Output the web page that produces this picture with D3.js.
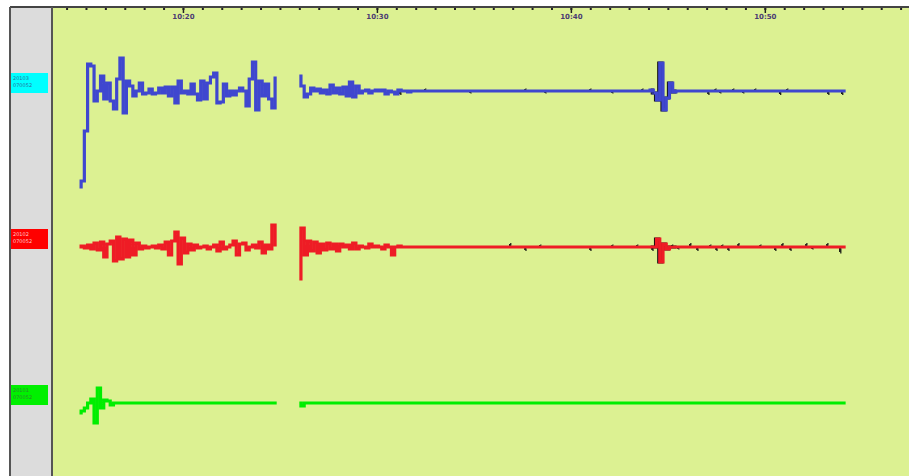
<!DOCTYPE html>
<html>
<head>
<meta charset="utf-8">
<script src="https://cdn.jsdelivr.net/npm/d3@7"></script>
<style>
  body { margin: 0; background: #fff; }
  .tick text { font-family: "DejaVu Sans", sans-serif; }
</style>
</head>
<body>
<div id="chart"></div>
<script>
var svgWidth = 909;
var svgHeight = 476;

// time axis, seconds after 10:00:00
var timeDomain = [798, 3446];
var majorTicks = [1200, 1800, 2400, 3000];
var tickLabels = ["10:20", "10:30", "10:40", "10:50"];

// channels top to bottom
var channelIds = ["c1", "c2", "c3"];
var labelLine1 = ["20103", "20102", "20101"];
var labelLine2 = ["070052", "070052", "070052"];

// two recording segments, one sample every 10 s
var seg1Start = 880;
var seg2Start = 1560;
var sampleStep = 10;

var blueSeg1 = [
  -96, -90, -40, 27, 25, -10, 0, 15, -8, 8,
  -10, -18, 12, 33, -22, 10, 5, -5, 0, 8,
  -3, -2, 2, -3, -2, 3, -2, 4, -5, 4,
  -12, 10, -2, 0, -3, 7, -3, -9, 10, -8,
  8, 14, 18, -12, -11, 7, -5, 0, -4, 0,
  3, 0, -15, 12, 29, -19, 10, -5, 7, -8,
  -17, 13
];
var blueSeg2 = [
  15, 5, -6, -3, 3, 0, 2, -2, 1, -3,
  6, -2, 3, -3, 4, -5, 9, -6, 5, -2,
  0, 1, -2, 0, 1, 0, 1, -3, 0, -1,
  -3, 1, 0, 0, -1, 0, 0, 0, 0, 0,
  0, 0, 0, 0, 0, 0, 0, 0, 0, 0,
  0, 0, 0, 0, 0, 0, 0, 0, 0, 0,
  0, 0, 0, 0, 0, 0, 0, 0, 0, 0,
  0, 0, 0, 0, 0, 0, 0, 0, 0, 0,
  0, 0, 0, 0, 0, 0, 0, 0, 0, 0,
  0, 0, 0, 0, 0, 0, 0, 0, 0, 0,
  0, 0, 0, 0, 0, 0, 0, 0, 0, 1,
  -2, -9, 28, -19, -7, 8, -1, 0, 0, 0,
  0, 0, 0, 0, 0, 0, 0, 0, 0, 0,
  0, 0, 0, 0, 0, 0, 0, 0, 0, 0,
  0, 0, 0, 0, 0, 0, 0, 0, 0, 0,
  0, 0, 0, 0, 0, 0, 0, 0, 0, 0,
  0, 0, 0, 0, 0, 0, 0, 0, 0, 0
];
var redSeg1 = [
  0, 1, -1, 2, -2, 4, -3, 5, -10, 3,
  6, -14, 10, -12, 8, -10, 7, -8, 4, -2,
  1, -1, 0, 1, -1, 2, -2, 5, -8, 6,
  15, -17, 9, -6, 3, -3, 2, -1, 0, 1,
  -2, 0, 2, -4, 5, -2, 0, 2, 6, -8,
  3, 4, -3, 0, 2, -1, 5, -6, 2, -2,
  22, 2
];
var redSeg2 = [
  -32, 19, -8, 6, -4, 5, -6, 3, -3, 4,
  -2, 3, -4, 3, 0, 2, -2, 4, -2, 1,
  0, -1, 3, 0, 1, 0, -2, 2, 0, -8,
  0, 1, 0, 0, 0, 0, 0, 0, 0, 0,
  0, 0, 0, 0, 0, 0, 0, 0, 0, 0,
  0, 0, 0, 0, 0, 0, 0, 0, 0, 0,
  0, 0, 0, 0, 0, 0, 0, 0, 0, 0,
  0, 0, 0, 0, 0, 0, 0, 0, 0, 0,
  0, 0, 0, 0, 0, 0, 0, 0, 0, 0,
  0, 0, 0, 0, 0, 0, 0, 0, 0, 0,
  0, 0, 0, 0, 0, 0, 0, 0, 0, 0,
  0, 8, -15, 3, -2, 0, 0, 0, 0, 0,
  0, 0, 0, 0, 0, 0, 0, 0, 0, 0,
  0, 0, 0, 0, 0, 0, 0, 0, 0, 0,
  0, 0, 0, 0, 0, 0, 0, 0, 0, 0,
  0, 0, 0, 0, 0, 0, 0, 0, 0, 0,
  0, 0, 0, 0, 0, 0, 0, 0, 0, 0
];
var greenSeg1 = [
  -10, -8, -5, 0, 4, -20, 15, -5, 3, 2,
  -2, 0, 0, 0, 0, 0, 0, 0, 0, 0,
  0, 0, 0, 0, 0, 0, 0, 0, 0, 0,
  0, 0, 0, 0, 0, 0, 0, 0, 0, 0,
  0, 0, 0, 0, 0, 0, 0, 0, 0, 0,
  0, 0, 0, 0, 0, 0, 0, 0, 0, 0,
  0, 0
];
var greenSeg2 = [
  0, -3, 0, 0, 0, 0, 0, 0, 0, 0,
  0, 0, 0, 0, 0, 0, 0, 0, 0, 0,
  0, 0, 0, 0, 0, 0, 0, 0, 0, 0,
  0, 0, 0, 0, 0, 0, 0, 0, 0, 0,
  0, 0, 0, 0, 0, 0, 0, 0, 0, 0,
  0, 0, 0, 0, 0, 0, 0, 0, 0, 0,
  0, 0, 0, 0, 0, 0, 0, 0, 0, 0,
  0, 0, 0, 0, 0, 0, 0, 0, 0, 0,
  0, 0, 0, 0, 0, 0, 0, 0, 0, 0,
  0, 0, 0, 0, 0, 0, 0, 0, 0, 0,
  0, 0, 0, 0, 0, 0, 0, 0, 0, 0,
  0, 0, 0, 0, 0, 0, 0, 0, 0, 0,
  0, 0, 0, 0, 0, 0, 0, 0, 0, 0,
  0, 0, 0, 0, 0, 0, 0, 0, 0, 0,
  0, 0, 0, 0, 0, 0, 0, 0, 0, 0,
  0, 0, 0, 0, 0, 0, 0, 0, 0, 0,
  0, 0, 0, 0, 0, 0, 0, 0, 0, 0
];

// small black marks on the quiet part, [time, amplitude]
var blueBlips = [[1871, -3], [1948, 2], [2088, -2], [2258, 2], [2320, -2], [2459, 2],
  [2527, -2], [2620, 2], [2651, -2], [2824, -3], [2846, 2], [2861, -2], [2901, 2],
  [2932, -2], [2969, 2], [3046, -3], [3068, 2], [3195, -3], [3238, -3]];
var redBlips = [[2211, 3], [2258, -3], [2304, 2], [2459, -3], [2527, 2], [2604, 2],
  [2651, -3], [2712, 2], [2731, -2], [2768, 3], [2790, -3], [2830, 2], [2849, -3],
  [2867, 2], [2886, -3], [2917, 3], [2985, 2], [3031, -3], [3053, 3], [3078, -3],
  [3127, 3], [3146, -2], [3192, 3], [3232, -5]];

var traces = [
  { id: "c1", color: "#3f47cf", box: "#00ffff", text: "#2a6fa0", seg1: blueSeg1, seg2: blueSeg2, blips: blueBlips, event: true },
  { id: "c2", color: "#ee1c25", box: "#ff0000", text: "#ffc8c8", seg1: redSeg1, seg2: redSeg2, blips: redBlips, event: true },
  { id: "c3", color: "#00ee00", box: "#00f000", text: "#2e8a2e", seg1: greenSeg1, seg2: greenSeg2, blips: [], event: false }
];

var svg = d3.select("#chart")
  .append("svg")
  .attr("width", svgWidth)
  .attr("height", svgHeight);

var plotLeft = 53, axisY = 7;

// panels
svg.append("rect").attr("x", 11).attr("y", axisY).attr("width", 41).attr("height", svgHeight - axisY).attr("fill", "#dcdcdc");
svg.append("rect").attr("x", plotLeft).attr("y", axisY).attr("width", svgWidth - plotLeft).attr("height", svgHeight - axisY).attr("fill", "#dcf192");

var x = d3.scaleLinear().domain(timeDomain).range([plotLeft, svgWidth]);
var yChan = d3.scalePoint().domain(channelIds).range([91, 403]);
var amp = d3.scaleLinear().domain([-100, 100]).range([100, -100]);

// axis
var minorAxis = d3.axisBottom(x).tickValues(d3.range(840, 3446, 60)).tickSize(3).tickFormat("");
var majorAxis = d3.axisBottom(x).tickValues(majorTicks).tickSize(6).tickPadding(1)
  .tickFormat(function(d, i) { return tickLabels[i]; });

var gMinor = svg.append("g").attr("transform", "translate(0," + axisY + ")").call(minorAxis);
gMinor.select(".domain").remove();
gMinor.selectAll(".tick line").attr("stroke", "#222").attr("stroke-width", 2);

var gMajor = svg.append("g").attr("transform", "translate(0," + axisY + ")").call(majorAxis);
gMajor.select(".domain").remove();
gMajor.selectAll(".tick line").attr("stroke", "#222").attr("stroke-width", 1.5);
gMajor.selectAll(".tick text").attr("font-size", "7px").attr("font-weight", "bold").attr("fill", "#4b3b72");

// frame lines
svg.append("line").attr("x1", 10).attr("x2", svgWidth).attr("y1", axisY).attr("y2", axisY)
  .attr("stroke", "#444").attr("stroke-width", 2);
svg.append("line").attr("x1", 10).attr("x2", 10).attr("y1", axisY).attr("y2", svgHeight)
  .attr("stroke", "#555").attr("stroke-width", 2);
svg.append("line").attr("x1", 52).attr("x2", 52).attr("y1", axisY).attr("y2", svgHeight)
  .attr("stroke", "#555").attr("stroke-width", 2);

function lineFor(start) {
  return d3.line()
    .x(function(d, i) { return x(start + i * sampleStep); })
    .y(function(d) { return amp(d); })
    .curve(d3.curveStep);
}

traces.forEach(function(tr, k) {
  var base = yChan(tr.id);

  // channel label
  var lab = svg.append("g").attr("transform", "translate(11," + (base - 18) + ")");
  lab.append("rect").attr("width", 37).attr("height", 20).attr("fill", tr.box);
  lab.append("text").attr("x", 2).attr("y", 7).attr("font-size", "5px")
    .attr("font-family", "DejaVu Sans, sans-serif").attr("fill", tr.text).text(labelLine1[k]);
  lab.append("text").attr("x", 2).attr("y", 14).attr("font-size", "5px")
    .attr("font-family", "DejaVu Sans, sans-serif").attr("fill", tr.text).text(labelLine2[k]);

  var g = svg.append("g").attr("transform", "translate(0," + base + ")");

  // thin black edge under the event
  if (tr.event) {
    var from = 109;
    g.append("path")
      .datum(tr.seg2.slice(from, 118))
      .attr("d", lineFor(seg2Start + from * sampleStep))
      .attr("transform", "translate(-1,0)")
      .attr("fill", "none").attr("stroke", "#111").attr("stroke-width", 3.2);
  }

  // black marks
  g.selectAll(".blip").data(tr.blips).enter().append("line")
    .attr("x1", function(d) { return x(d[0]); })
    .attr("x2", function(d) { return x(d[0]); })
    .attr("y1", amp(0))
    .attr("y2", function(d) { return amp(d[1]); })
    .attr("stroke", "#111").attr("stroke-width", 1.5);

  g.append("path").datum(tr.seg1).attr("d", lineFor(seg1Start))
    .attr("fill", "none").attr("stroke", tr.color).attr("stroke-width", 3.2);
  g.append("path").datum(tr.seg2).attr("d", lineFor(seg2Start))
    .attr("fill", "none").attr("stroke", tr.color).attr("stroke-width", 3.2);

  // blips that stick out on top of the trace
  g.selectAll(".blip2").data(tr.blips).enter().append("line")
    .attr("x1", function(d) { return x(d[0]) + 1; })
    .attr("x2", function(d) { return x(d[0]) + 1; })
    .attr("y1", function(d) { return amp(d[1] > 0 ? 1.6 : -1.6); })
    .attr("y2", function(d) { return amp(d[1] * 1.3); })
    .attr("stroke", "#111").attr("stroke-width", 1.2);
});
</script>
</body>
</html>
